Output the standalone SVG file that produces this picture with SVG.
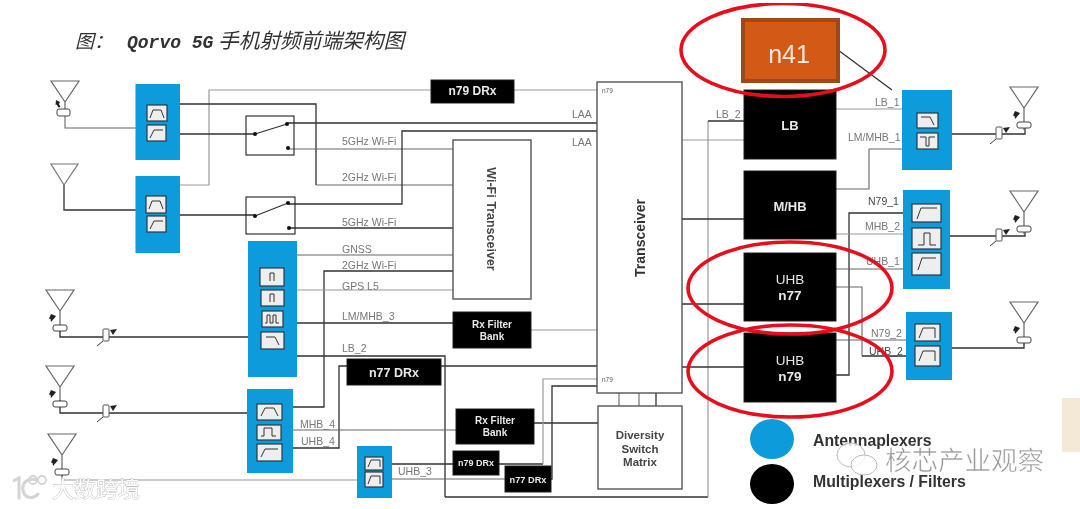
<svg xmlns="http://www.w3.org/2000/svg" width="1080" height="509" viewBox="0 0 1080 509">
<style>
text{font-family:"Liberation Sans","Noto Sans CJK SC",sans-serif}
.blue{fill:#0b9bdc}
.blk{fill:#000;stroke:#222;stroke-width:1}
.wh{fill:#fff;stroke:#555;stroke-width:1.4}
.d{fill:none;stroke:#333;stroke-width:1.3}
.g{fill:none;stroke:#999;stroke-width:1.2}
.m{fill:none;stroke:#666;stroke-width:1.1}
.lb{font-size:10.5px;fill:#777}
.tw{fill:#e8e8e8;font-weight:bold;text-anchor:middle}
.f{fill:#eee;stroke:#2a3a44;stroke-width:1.2}
.ic{fill:none;stroke:#333;stroke-width:1}
.red{fill:none;stroke:#e8111a;stroke-width:3.6}
.sw{fill:none;stroke:#222;stroke-width:1.1}
.wmk{fill:#fff;stroke:#bbb;stroke-width:.8;paint-order:stroke}
</style>
<defs>
<filter id="soft" x="0" y="0" width="100%" height="100%"><feGaussianBlur stdDeviation="0.45"/></filter>
<g id="ant">
<path d="M-14 0H14L0 21Z M0 21V43" fill="none" stroke="#666" stroke-width="1.2"/>
<rect x="-7" y="35" width="14" height="6" rx="2" fill="#fff" stroke="#444" stroke-width="1"/>
<path d="M-9 24l5 2-1.500 2 -3.500 4-.5-3-1.500-.5Z" fill="#222"/>
</g>
<g id="tun">
<path d="M-9 10L-3 5" fill="none" stroke="#333" stroke-width="1"/>
<rect x="-3" y="-7" width="6" height="12" rx="1" fill="#fff" stroke="#555" stroke-width="1"/>
<path d="M4 -6l7-1-4 6Z" fill="#222"/>
</g>
<circle id="dot" r="2" fill="#111"/>
</defs>
<g filter="url(#soft)">
<rect id="paper-patch" x="1062" y="398" width="18" height="54" fill="#f4e9d6"/>
<g id="title"><text y="48" font-size="18" font-style="italic" fill="#333"><tspan x="75" font-size="19">图：</tspan><tspan x="127" font-family="'Liberation Mono','Noto Sans CJK SC',monospace" font-size="18" font-weight="bold">Qorvo 5G</tspan><tspan x="218" font-size="20.700">手机射频前端架构图</tspan></text></g>
<g id="connectors">
<path class="m" d="M65 114V128H136"/>
<path class="d" d="M64 185V210H136"/>
<path class="d" d="M60 325V337H248"/>
<path class="d" d="M60 400V413H247"/>
<path class="g" d="M62 470V480H357"/>
<path class="g" d="M180 185H209V90H431"/>
<path class="g" d="M514 90H597"/>
<path class="d" d="M180 104H316V185"/>
<path class="m" d="M316 185H453"/>
<path class="d" d="M180 134H255"/>
<path class="d" d="M287 123H597"/>
<path class="m" d="M288 149H453"/>
<path class="d" d="M180 215H255"/>
<path class="d" d="M288 204H402V131H597"/>
<path class="d" d="M289 228H453"/>
<path class="m" d="M297 255H453"/>
<path class="d" d="M292 407H324V271H453"/>
<path class="g" d="M297 290H453"/>
<path class="d" d="M297 323H453"/>
<path class="g" d="M531 330H597"/>
<path class="d" d="M297 356H445V497"/>
<path class="d" d="M445 497H708"/>
<path class="g" d="M708 497V121"/>
<path class="d" d="M708 121H744"/>
<path class="d" d="M292 448H339V366H347"/>
<path class="d" d="M441 366H597"/>
<path class="m" d="M292 430H456"/>
<path class="d" d="M534 423H598"/>
<path class="d" d="M392 464H453"/>
<path class="m" d="M392 479H505"/>
<path class="d" d="M499 464H543"/>
<path class="g" d="M543 464V379H597"/>
<path class="d" d="M551 479H552V386H597"/>
<path class="m" d="M619 393V406M639 393V406"/>
<path class="d" d="M656 393V406"/>
<path class="g" d="M682 140H744"/>
<path class="d" d="M682 219H744"/>
<path class="d" d="M682 304H744"/>
<path class="d" d="M682 367H744"/>
<path class="d" d="M838 50L892 90"/>
<path class="g" d="M836 109H902"/>
<path class="m" d="M836 189H869V149H902"/>
<path class="d" d="M903 213H849V375H836"/>
<path class="g" d="M836 234H903"/>
<path class="m" d="M836 269H903"/>
<path class="m" d="M836 287H862V356"/>
<path class="d" d="M862 356H906"/>
<path class="m" d="M836 340H906"/>
<path class="d" d="M952 134H1025V127"/>
<path class="d" d="M950 236H1025V231"/>
<path class="d" d="M952 348H1024V343"/>
</g>
<g id="antenna-1"><path d="M51 81H79L65 102Z M65 102V110" fill="none" stroke="#666" stroke-width="1.200"/><rect x="57" y="109" width="13" height="7" rx="2" fill="#fff" stroke="#444"/><path d="M56 100l4 2-1 2 1.500 3-2 .5-2-3-1 .5Z" fill="#222"/></g>
<g id="antenna-2"><path d="M51 164H78L64 185Z" fill="none" stroke="#777" stroke-width="1.200"/></g>
<g id="antenna-3"><use href="#ant" x="60" y="290"/><use href="#tun" x="106" y="336"/></g>
<g id="antenna-4"><use href="#ant" x="60" y="366"/><use href="#tun" x="106" y="412"/></g>
<g id="antenna-5"><use href="#ant" x="62" y="434"/></g>
<g id="antenna-r1"><use href="#ant" x="1024" y="87"/><use href="#tun" x="999" y="134"/></g>
<g id="antenna-r2"><use href="#ant" x="1024" y="191"/><use href="#tun" x="999" y="236"/></g>
<g id="antenna-r3"><use href="#ant" x="1024" y="302"/></g>
<g id="aplex-1"><rect class="blue" x="135.500" y="84" width="44.500" height="76"/>
<rect class="f" x="147" y="105" width="20" height="16"/><path class="ic" d="M150 118l3-8h8l3 8"/>
<rect class="f" x="147" y="125" width="19" height="16"/><path class="ic" d="M150 138l4-8h9"/></g>
<g id="aplex-2"><rect class="blue" x="135.500" y="176" width="44.500" height="77"/>
<rect class="f" x="146" y="196" width="20" height="17"/><path class="ic" d="M149 209l3-8h8l3 8"/>
<rect class="f" x="147" y="216" width="19" height="16"/><path class="ic" d="M150 229l4-8h9"/></g>
<g id="switch-1"><rect class="sw" x="246" y="116" width="48" height="39"/><path class="d" d="M255 134L287 124"/><use href="#dot" x="255" y="134"/><use href="#dot" x="287" y="124"/><use href="#dot" x="288" y="148"/></g>
<g id="switch-2"><rect class="sw" x="246" y="197" width="49" height="37"/><path class="d" d="M255 216L288 203"/><use href="#dot" x="255" y="216"/><use href="#dot" x="288" y="203"/><use href="#dot" x="289" y="228"/></g>
<g id="aplex-3"><rect class="blue" x="248" y="241" width="49" height="136"/>
<rect class="f" x="260" y="268" width="24" height="18"/><path class="ic" d="M270 281v-8h4v8"/>
<rect class="f" x="261" y="290" width="23" height="16"/><path class="ic" d="M270 302v-8h4v8"/>
<rect class="f" x="262" y="311" width="21" height="16"/><path class="ic" d="M265 323h2v-8h3v8h3v-8h3v8h3"/>
<rect class="f" x="261" y="332" width="23" height="17"/><path class="ic" d="M266 337h9l4 8"/></g>
<g id="aplex-4"><rect class="blue" x="247" y="389" width="46" height="84"/>
<rect class="f" x="257" y="404" width="25" height="16"/><path class="ic" d="M261 416l4-8h9l4 8"/>
<rect class="f" x="257" y="425" width="24" height="15"/><path class="ic" d="M261 436h3v-8h8v8h4"/>
<rect class="f" x="257" y="444" width="25" height="17"/><path class="ic" d="M261 457l4-8h13"/></g>
<g id="aplex-5"><rect class="blue" x="357" y="446" width="35" height="52"/>
<rect class="f" x="365" y="457" width="18" height="13"/><path class="ic" d="M368 467l3-7h9v7"/>
<rect class="f" x="365" y="472" width="18" height="15"/><path class="ic" d="M368 484l3-8h9v8"/></g>
<g id="n79-drx-top"><rect class="blk" x="431" y="80" width="83" height="23"/><text class="tw" x="472.500" y="95" font-size="12">n79 DRx</text></g>
<g id="wifi-transceiver"><rect class="wh" x="453" y="140" width="78" height="159"/><text x="487" y="219" font-size="12.500" font-weight="bold" fill="#444" text-anchor="middle" transform="rotate(90 487 219)">Wi-Fi Transceiver</text></g>
<g id="transceiver"><rect class="wh" x="597" y="82" width="85" height="311"/><text x="645" y="238" font-size="14" font-weight="bold" fill="#333" text-anchor="middle" transform="rotate(-90 645 238)">Transceiver</text><text x="602" y="93" font-size="6.500" fill="#555">n79</text><text x="602" y="382" font-size="6.500" fill="#555">n79</text></g>
<g id="rx-bank-1"><rect class="blk" x="453" y="312" width="78" height="36"/><text class="tw" font-size="10"><tspan x="492" y="328">Rx Filter</tspan><tspan x="492" y="340">Bank</tspan></text></g>
<g id="n77-drx"><rect class="blk" x="347" y="359" width="94" height="26"/><text class="tw" x="394" y="377" font-size="12.500">n77 DRx</text></g>
<g id="rx-bank-2"><rect class="blk" x="456" y="409" width="78" height="35"/><text class="tw" font-size="10"><tspan x="495" y="424">Rx Filter</tspan><tspan x="495" y="436">Bank</tspan></text></g>
<g id="n79-drx-small"><rect class="blk" x="453" y="451" width="46" height="24"/><text class="tw" x="476" y="466" font-size="9">n79 DRx</text></g>
<g id="n77-drx-small"><rect class="blk" x="505" y="466" width="46" height="26"/><text class="tw" x="528" y="483" font-size="9.200">n77 DRx</text></g>
<g id="diversity"><rect class="wh" x="598" y="406" width="84" height="83"/><text font-size="11.500" fill="#444" text-anchor="middle" font-weight="bold"><tspan x="640" y="439">Diversity</tspan><tspan x="640" y="453">Switch</tspan><tspan x="640" y="466">Matrix</tspan></text></g>
<g id="n41"><rect x="743" y="20" width="95" height="61" fill="#d35a15" stroke="#9c4a1a" stroke-width="4"/><text x="789" y="63" font-size="25" fill="#f3e8df" text-anchor="middle">n41</text></g>
<g id="lb"><rect class="blk" x="744" y="90" width="92" height="69"/><text class="tw" x="790" y="130" font-size="13">LB</text></g>
<g id="mhb"><rect class="blk" x="744" y="171" width="92" height="68"/><text class="tw" x="790" y="211" font-size="13">M/HB</text></g>
<g id="uhb-n77"><rect class="blk" x="744" y="253" width="92" height="68"/><text class="tw" font-size="13.500"><tspan x="790" y="284" font-weight="normal">UHB</tspan><tspan x="790" y="300">n77</tspan></text></g>
<g id="uhb-n79"><rect class="blk" x="744" y="333" width="92" height="69"/><text class="tw" font-size="13.500"><tspan x="790" y="365" font-weight="normal">UHB</tspan><tspan x="790" y="381">n79</tspan></text></g>
<g id="aplex-r1"><rect class="blue" x="902" y="90" width="50" height="80"/>
<rect class="f" x="917" y="113" width="21" height="15"/><path class="ic" d="M921 117h9l4 8"/>
<rect class="f" x="917" y="133" width="21" height="16"/><path class="ic" d="M920 137h6v9h3v-9h6"/></g>
<g id="aplex-r2"><rect class="blue" x="903" y="190" width="47" height="99"/>
<rect class="f" x="912" y="204" width="29" height="18"/><path class="ic" d="M917 219l4-11h16"/>
<rect class="f" x="912" y="228" width="29" height="21"/><path class="ic" d="M918 245h6v-12h6v12h6"/>
<rect class="f" x="912" y="253" width="29" height="22"/><path class="ic" d="M918 270l4-12h14"/></g>
<g id="aplex-r3"><rect class="blue" x="906" y="312" width="46" height="68"/>
<rect class="f" x="915" y="324" width="25" height="17"/><path class="ic" d="M919 338l4-10h12v10"/>
<rect class="f" x="915" y="346" width="25" height="20"/><path class="ic" d="M919 361l4-10h12v10"/></g>
<g id="labels">
<text class="lb" x="342" y="145">5GHz Wi-Fi</text>
<text class="lb" x="342" y="181">2GHz Wi-Fi</text>
<text class="lb" x="342" y="226">5GHz Wi-Fi</text>
<text class="lb" x="342" y="253">GNSS</text>
<text class="lb" x="342" y="269">2GHz Wi-Fi</text>
<text class="lb" x="342" y="290">GPS L5</text>
<text class="lb" x="342" y="320">LM/MHB_3</text>
<text class="lb" x="342" y="352">LB_2</text>
<text class="lb" x="572" y="118">LAA</text>
<text class="lb" x="572" y="146">LAA</text>
<text class="lb" x="300" y="428">MHB_4</text>
<text class="lb" x="301" y="445">UHB_4</text>
<text class="lb" x="398" y="475">UHB_3</text>
<text class="lb" x="716" y="118">LB_2</text>
<text class="lb" x="875" y="106">LB_1</text>
<text class="lb" x="848" y="141">LM/MHB_1</text>
<text class="lb" x="868" y="205" style="fill:#444">N79_1</text>
<text class="lb" x="865" y="230">MHB_2</text>
<text class="lb" x="866" y="265">UHB_1</text>
<text class="lb" x="871" y="337">N79_2</text>
<text class="lb" x="869" y="355" style="fill:#444">UHB_2</text>
</g>
<g id="highlights">
<ellipse class="red" cx="783" cy="50" rx="102" ry="46.500"/>
<ellipse class="red" cx="790" cy="288" rx="102" ry="46"/>
<ellipse class="red" cx="790" cy="371" rx="102" ry="46"/>
</g>
<g id="legend">
<ellipse class="blue" cx="772" cy="439" rx="22" ry="20"/>
<ellipse cx="772" cy="484" rx="22" ry="20" fill="#000"/>
<text x="813" y="446" font-size="15.800" font-weight="bold" fill="#333">Antennaplexers</text>
<text x="813" y="487" font-size="15.800" font-weight="bold" fill="#333">Multiplexers / Filters</text>
</g>
<g id="watermarks">
<ellipse cx="851" cy="455" rx="14" ry="12" fill="#fff" fill-opacity=".8" stroke="#bbb" stroke-width="1"/>
<ellipse cx="864" cy="465" rx="13" ry="10" fill="#fff" fill-opacity=".8" stroke="#bbb" stroke-width="1"/>
<text x="885" y="470" font-size="26.500" fill="#9a9a9a" stroke="#fff" stroke-width=".5">核芯产业观察</text>
<path d="M13 481L19 478V498M37 480C26 477 22 484 23 490C24 498 33 500 38 494" fill="none" stroke="#d4d4d4" stroke-width="3" stroke-linecap="round"/>
<circle cx="33" cy="480" r="4" fill="none" stroke="#d4d4d4" stroke-width="1.800"/><circle cx="42" cy="480" r="4" fill="none" stroke="#d4d4d4" stroke-width="1.800"/>
<text class="wmk" x="52" y="497" font-size="22">大数跨境</text>
</g>
</g>
</svg>
